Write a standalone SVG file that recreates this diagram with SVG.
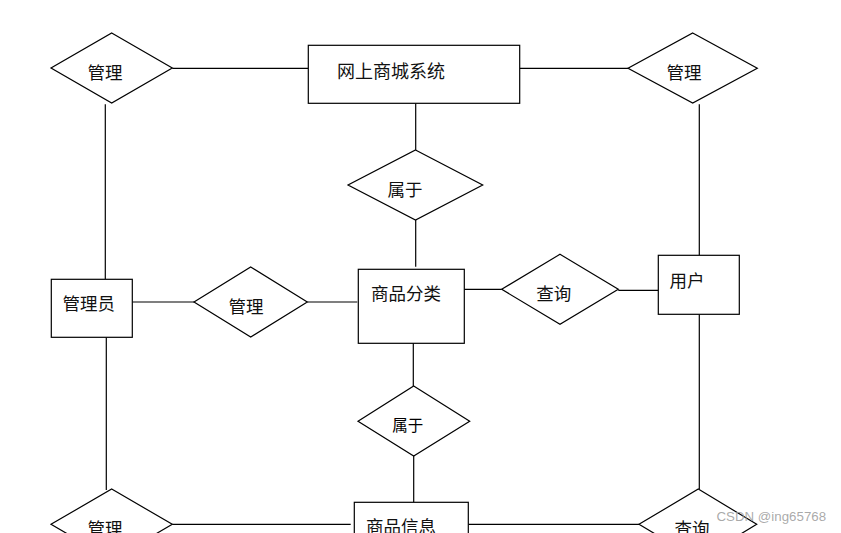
<svg xmlns="http://www.w3.org/2000/svg" width="841" height="533" viewBox="0 0 841 533">
<style>
.shape{fill:#fff;stroke:#000;stroke-width:1.2}
.edge{stroke:#000;stroke-width:1.2;fill:none}
.lbl{font-family:"Noto Sans CJK SC","Noto Sans",sans-serif;font-size:17.5px;fill:#111;text-anchor:middle;dominant-baseline:central}
.lbl2{font-family:"Noto Sans CJK SC","Noto Sans",sans-serif;font-size:15.5px;fill:#000;text-anchor:middle;dominant-baseline:central}
.wm{font-family:"Liberation Sans",Arial,sans-serif;font-size:13.3px;fill:#9a9a9a;fill-opacity:0.85}
</style>
<rect width="841" height="533" fill="#fff"/>
<g id="connectors">
<line class="edge" x1="172.3" y1="68.3" x2="308.3" y2="68.3"/>
<line class="edge" x1="519.7" y1="68.3" x2="628" y2="68.3"/>
<line class="edge" x1="415.7" y1="103.3" x2="415.7" y2="150"/>
<line class="edge" x1="415.7" y1="220" x2="415.7" y2="266.7"/>
<line class="edge" x1="105.3" y1="104.3" x2="105.3" y2="279.3"/>
<line class="edge" x1="699.3" y1="104.3" x2="699.3" y2="255.3"/>
<line class="edge" x1="132.3" y1="302" x2="194" y2="302"/>
<line class="edge" x1="307.3" y1="302" x2="357.3" y2="302"/>
<line class="edge" x1="462" y1="289.3" x2="501.7" y2="289.3"/>
<line class="edge" x1="618.3" y1="290.3" x2="658.3" y2="290.3"/>
<line class="edge" x1="106.3" y1="337.3" x2="106.3" y2="490"/>
<line class="edge" x1="699.3" y1="314.3" x2="699.3" y2="489"/>
<line class="edge" x1="413.3" y1="341" x2="413.3" y2="386"/>
<line class="edge" x1="413.7" y1="456" x2="413.7" y2="502.3"/>
<line class="edge" x1="172.3" y1="524.3" x2="350.7" y2="524.3"/>
<line class="edge" x1="468.3" y1="524.3" x2="639" y2="524.3"/>
</g>
<g id="rel-manage-tl">
<polygon class="shape" points="111.7,33 172.3,68 111.7,103 51,68"/>
<text class="lbl" x="105" y="71.3">管理</text>
</g>
<g id="system">
<rect class="shape" x="308.3" y="45.3" width="211.4" height="58"/>
<text class="lbl" x="391" y="69.5" style="font-size:18px">网上商城系统</text>
</g>
<g id="rel-manage-tr">
<polygon class="shape" points="692.7,33 757.3,68.3 692.7,103 628,68.3"/>
<text class="lbl" x="684" y="71.3">管理</text>
</g>
<g id="rel-belong-top">
<polygon class="shape" points="415.5,150 482.7,185 415.5,220 348,185"/>
<text class="lbl" x="405" y="188">属于</text>
</g>
<g id="admin">
<rect class="shape" x="51.3" y="279.3" width="81" height="58"/>
<text class="lbl" x="88.7" y="302.8">管理员</text>
</g>
<g id="rel-manage-mid">
<polygon class="shape" points="250.7,267 307.3,302 250.7,337 194,302"/>
<text class="lbl" x="246" y="305.3">管理</text>
</g>
<g id="category">
<rect class="shape" x="358.3" y="269.3" width="106" height="74"/>
<text class="lbl" x="406" y="292.8">商品分类</text>
</g>
<g id="rel-query-mid">
<polygon class="shape" points="560,254.3 618.3,289.3 560,324.3 501.7,289.3"/>
<text class="lbl" x="553.7" y="292.8">查询</text>
</g>
<g id="user">
<rect class="shape" x="658.3" y="255.3" width="81" height="59"/>
<text class="lbl" x="687" y="279">用户</text>
</g>
<g id="rel-belong-bottom">
<polygon class="shape" points="413.7,386 469.7,421.3 413.7,456 358,421.3"/>
<text class="lbl2" x="407.7" y="424">属于</text>
</g>
<g id="rel-manage-bl">
<polygon class="shape" points="111.7,489 172.3,524.3 111.7,559.6 51,524.3"/>
<text class="lbl" x="105" y="527">管理</text>
</g>
<g id="product">
<rect class="shape" x="354.3" y="502.3" width="114" height="60"/>
<text class="lbl" x="401" y="525.5">商品信息</text>
</g>
<g id="rel-query-br">
<polygon class="shape" points="698.3,489 756.7,524.3 698.3,559.6 639,524.3"/>
<text class="lbl" x="692" y="527">查询</text>
</g>
<text class="wm" x="716.5" y="520.7">CSDN @ing65768</text>
</svg>
